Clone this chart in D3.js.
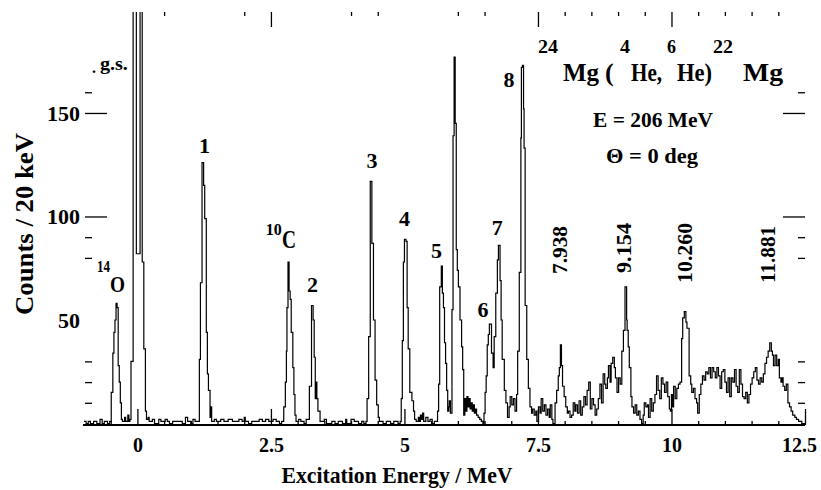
<!DOCTYPE html>
<html><head><meta charset="utf-8">
<script src="https://cdn.jsdelivr.net/npm/d3@7"></script>
<style>
body{margin:0;background:#fff}
svg{display:block}
text{font-family:"Liberation Serif","Times New Roman",serif;font-weight:bold;fill:#000}
</style>
</head><body>
<svg id="chart" width="821" height="490"></svg>
<script>
// ---- spectrum: [excitation energy (MeV), counts / 20 keV], step histogram ----
const segLow   = [[-1.00,1],[-0.96,0],[-0.92,1],[-0.88,0],[-0.82,1],[-0.76,0],[-0.70,2],[-0.66,0],[-0.62,1],[-0.56,0],[-0.52,1]];
const segO14   = [[-0.49,15],[-0.46,34],[-0.44,44],[-0.42,50],[-0.40,58],[-0.38,56],[-0.36,28],[-0.34,20],[-0.32,10],[-0.30,2],[-0.28,1],[-0.24,3],[-0.22,1],[-0.18,4],[-0.16,1],[-0.14,2]];
const segGs    = [[-0.12,30],[-0.08,260],[-0.02,82],[0.05,260],[0.09,78],[0.12,36],[0.15,6],[0.17,2]];
const segBase1 = [[0.20,3],[0.22,1],[0.28,2],[0.32,0],[0.40,2],[0.44,1],[0.52,2],[0.56,1],[0.60,0],[0.66,1],[0.76,1],[0.84,0],[0.90,3],[0.94,1],[1.00,0],[1.04,2],[1.08,1]];
const segP1    = [[1.16,31],[1.18,68],[1.21,126],[1.24,115],[1.26,99],[1.29,44],[1.31,24],[1.33,16],[1.36,3],[1.37,8],[1.39,1]];
const segBase2 = [[1.44,2],[1.48,1],[1.56,2],[1.62,1],[1.70,2],[1.78,1],[1.90,2],[1.96,1],[2.00,3],[2.02,1],[2.08,0],[2.14,1],[2.28,2],[2.34,1],[2.40,2],[2.46,1],[2.54,2],[2.60,1],[2.66,0],[2.70,1]];
const segC10   = [[2.74,8],[2.77,20],[2.79,35],[2.80,56],[2.82,78],[2.84,64],[2.86,60],[2.88,44],[2.91,27],[2.93,14],[2.95,4],[2.97,1],[3.02,2],[3.06,1],[3.12,0],[3.16,2]];
const segP2    = [[3.19,2],[3.22,18],[3.26,57],[3.29,50],[3.31,32],[3.33,12],[3.35,20],[3.36,12],[3.38,6],[3.42,1]];
const segBase3 = [[3.50,2],[3.54,0],[3.64,1],[3.70,0],[3.76,1],[3.84,0],[3.90,2],[3.92,0],[4.00,2],[4.06,1],[4.14,0],[4.20,1],[4.24,0]];
const segP3    = [[4.28,1],[4.30,12],[4.33,42],[4.36,117],[4.39,87],[4.42,50],[4.45,21],[4.48,9],[4.51,3],[4.53,1],[4.60,0],[4.66,1],[4.74,0],[4.80,1],[4.88,0]];
const segP4    = [[4.92,1],[4.94,12],[4.96,40],[4.98,78],[5.00,89],[5.03,88],[5.05,56],[5.07,36],[5.10,15],[5.14,11],[5.17,6],[5.19,2]];
const segBase4 = [[5.22,1],[5.26,3],[5.28,1],[5.30,4],[5.32,2],[5.34,5],[5.36,1],[5.40,3],[5.44,1],[5.48,2],[5.52,0],[5.56,1]];
const segP5    = [[5.62,6],[5.64,19],[5.66,66],[5.69,76],[5.71,63],[5.73,56],[5.75,39],[5.77,29],[5.79,16],[5.81,6],[5.83,8],[5.84,11],[5.86,5]];
const segP595  = [[5.89,55],[5.91,139],[5.93,177],[5.95,145],[5.97,84],[5.99,74],[6.01,66],[6.04,50],[6.07,37],[6.09,26],[6.11,4]];
const segNoise1= [[6.13,12],[6.15,6],[6.17,13],[6.19,8],[6.21,12],[6.23,7],[6.25,10],[6.27,6],[6.29,9],[6.31,5],[6.33,7],[6.35,4],[6.38,3],[6.41,2],[6.44,1],[6.47,0]];
const segP67   = [[6.49,5],[6.51,15],[6.53,23],[6.55,38],[6.57,43],[6.59,48],[6.63,34],[6.66,27],[6.68,42],[6.71,63],[6.74,79],[6.76,86],[6.79,69],[6.81,50],[6.83,31],[6.87,16],[6.90,10],[6.93,3],[6.96,8],[6.98,13],[7.01,9],[7.04,12],[7.07,6]];
const segP8    = [[7.10,14],[7.12,35],[7.15,73],[7.18,138],[7.19,172],[7.21,173],[7.23,152],[7.24,133],[7.26,57],[7.29,31],[7.32,17],[7.35,8],[7.38,5],[7.40,7],[7.43,4],[7.46,6],[7.48,1]];
const segHigh1 = [[7.51,8],[7.54,5],[7.56,12],[7.59,6],[7.62,9],[7.65,4],[7.68,7],[7.71,3],[7.73,9],[7.76,2],[7.78,0],[7.82,10],[7.85,16],[7.88,23],[7.90,27],[7.92,38],[7.94,28],[7.96,18],[7.99,13],[8.02,8],[8.05,5],[8.07,6],[8.10,3],[8.13,4],[8.16,10],[8.19,6],[8.21,9],[8.24,5],[8.27,11],[8.30,4],[8.33,8],[8.36,13],[8.39,9],[8.42,16],[8.45,20],[8.48,7]];
const segHigh2 = [[8.51,12],[8.54,9],[8.57,4],[8.60,7],[8.63,12],[8.66,19],[8.69,10],[8.72,24],[8.75,19],[8.77,17],[8.80,22],[8.82,28],[8.85,20],[8.87,29],[8.90,32],[8.93,27],[8.95,22],[8.98,15],[9.01,22],[9.04,19],[9.07,35],[9.10,45],[9.13,66],[9.16,50],[9.17,45],[9.19,37],[9.21,27],[9.24,13],[9.26,8],[9.29,5],[9.32,9],[9.35,4],[9.38,6],[9.41,2],[9.44,0],[9.47,4],[9.49,10]];
const segHigh3 = [[9.52,8],[9.55,9],[9.57,3],[9.60,12],[9.63,6],[9.66,10],[9.69,14],[9.72,23],[9.75,16],[9.78,12],[9.81,22],[9.84,19],[9.87,15],[9.90,20],[9.93,13],[9.96,7],[9.98,6],[10.00,14],[10.02,8],[10.04,18],[10.07,12],[10.10,17],[10.13,19],[10.16,20],[10.19,41],[10.21,51],[10.24,54],[10.27,49],[10.29,46],[10.33,23],[10.36,19],[10.38,15],[10.41,17],[10.44,12],[10.47,10],[10.49,5]];
const segHigh4 = [[10.52,14],[10.55,19],[10.58,23],[10.61,21],[10.64,25],[10.67,24],[10.70,27],[10.73,22],[10.76,27],[10.79,25],[10.82,22],[10.85,27],[10.88,23],[10.91,17],[10.94,25],[10.97,26],[11.00,20],[11.03,15],[11.06,22],[11.09,13],[11.12,22],[11.15,20],[11.18,26],[11.21,18],[11.24,15],[11.27,26],[11.30,19],[11.33,13],[11.36,12],[11.39,15],[11.42,10],[11.45,14],[11.48,19]];
const segHigh5 = [[11.51,22],[11.54,25],[11.57,27],[11.60,21],[11.63,19],[11.66,22],[11.69,20],[11.72,24],[11.75,29],[11.78,32],[11.81,35],[11.84,39],[11.87,35],[11.89,33],[11.91,28],[11.94,33],[11.97,28],[12.00,31],[12.02,22],[12.05,20],[12.07,22],[12.09,18],[12.12,16],[12.15,19],[12.18,10],[12.21,8],[12.24,6],[12.27,4],[12.31,3],[12.34,2],[12.38,1],[12.44,0],[12.50,0]];

// ---- axes ----
const xMajorTicks = [0, 2.5, 5, 7.5, 10, 12.5];
const xMinorTicks = [-0.5,0.5,1,1.5,2,3,3.5,4,4.5,5.5,6,6.5,7,8,8.5,9,9.5,10.5,11,11.5,12];
const topMajorTicks = [2.5, 7.5, 10];
const topMinorTicks = [0.5, 2, 4, 4.5, 6, 6.5, 8, 8.5, 9, 9.5, 10.5, 11, 11.5, 12];
const yMajorTicks = [50, 100, 150];
const yMajorTickMarks = [100, 150];
const yMinorTicks = [10, 20, 30, 80, 90, 160];

// ---- annotations ----
const peakLabelText  = ["1","2","3","4","5","6","7","8"];
const peakLabelE     = [1.255, 3.277, 4.391, 5.0, 5.6, 6.47, 6.74, 6.957];
const peakLabelCount = [130.7, 63.5, 123.4, 95.4, 80, 51.4, 91.1, 162.6];
const levelText  = ["7.938","9.154","10.260","11.881"];
const levelE     = [8.05, 9.25, 10.375, 11.94];
const levelCount = [72.2, 72.7, 67.9, 67.9];
const xTitle = "Excitation Energy / MeV";
const yTitle = "Counts / 20 keV";

const spectrum = [].concat(segLow, segO14, segGs, segBase1, segP1, segBase2, segC10, segP2, segBase3,
  segP3, segP4, segBase4, segP5, segP595, segNoise1, segP67, segP8, segHigh1, segHigh2, segHigh3, segHigh4, segHigh5);

const svg = d3.select("#chart");
const x = d3.scaleLinear().domain([-1, 12.5]).range([84, 805]);
const y = d3.scaleLinear().domain([0, 198]).range([423.5, 13.6]);

svg.append("defs").append("clipPath").attr("id","plot")
  .append("rect").attr("x", 84).attr("y", 12).attr("width", 721).attr("height", 414);

const line = d3.line().x(d => x(d[0])).y(d => y(d[1])).curve(d3.curveStepAfter);
svg.append("path").datum(spectrum).attr("clip-path","url(#plot)")
  .attr("d", line).attr("fill","none").attr("stroke","#000").attr("stroke-width",1.2);

function styleAxis(g, w){
  g.selectAll(".tick line").attr("stroke","#000").attr("stroke-width", w || 1.3);
  g.selectAll("text").style("font-family",'"Liberation Serif","Times New Roman",serif').style("font-weight","bold");
}
// bottom
const gB = svg.append("g").attr("transform","translate(0,425)")
  .call(d3.axisBottom(x).tickValues(xMajorTicks).tickSizeInner(-16).tickSizeOuter(0).tickPadding(13).tickFormat(d => String(d)));
gB.select(".domain").attr("stroke","#000").attr("stroke-width",2).attr("d","M83,0H805");
gB.selectAll("text").attr("font-size",20).style("font-size","20px");
gB.selectAll(".tick").filter(d => d === 12.5).select("text").attr("dx", -6);
styleAxis(gB);
const gBm = svg.append("g").attr("transform","translate(0,425)")
  .call(d3.axisBottom(x).tickValues(xMinorTicks).tickSize(-4).tickFormat(""));
gBm.select(".domain").remove(); styleAxis(gBm);
// top
const gT = svg.append("g").attr("transform","translate(0,12)")
  .call(d3.axisTop(x).tickValues(topMajorTicks).tickSize(-15).tickFormat(""));
gT.select(".domain").remove(); styleAxis(gT);
const gTm = svg.append("g").attr("transform","translate(0,12)")
  .call(d3.axisTop(x).tickValues(topMinorTicks).tickSize(-4).tickFormat(""));
gTm.select(".domain").remove(); styleAxis(gTm);
// left
const gL = svg.append("g").attr("transform","translate(85,0)")
  .call(d3.axisLeft(y).tickValues(yMajorTicks).tickSize(-22).tickPadding(5).tickFormat(d => String(d)));
gL.select(".domain").remove();
gL.selectAll(".tick line").filter(d => !yMajorTickMarks.includes(d)).remove();
gL.selectAll("text").style("font-size","22px");
styleAxis(gL);
const gLm = svg.append("g").attr("transform","translate(85,0)")
  .call(d3.axisLeft(y).tickValues(yMinorTicks).tickSize(-7).tickFormat(""));
gLm.select(".domain").remove(); styleAxis(gLm);
// right
const gR = svg.append("g").attr("transform","translate(805,0)")
  .call(d3.axisRight(y).tickValues(yMajorTickMarks).tickSize(-22).tickFormat(""));
gR.select(".domain").remove(); styleAxis(gR);
const gRm = svg.append("g").attr("transform","translate(805,0)")
  .call(d3.axisRight(y).tickValues(yMinorTicks).tickSize(-7).tickFormat(""));
gRm.select(".domain").remove(); styleAxis(gRm);

// titles
function put(s, px, py, size, len, anchor, rot){
  const t = svg.append("text").text(s).attr("font-size", size)
    .attr("text-anchor", anchor || "start");
  if (rot) t.attr("transform", `translate(${px},${py}) rotate(${rot})`);
  else t.attr("x", px).attr("y", py);
  if (len) t.attr("textLength", len).attr("lengthAdjust","spacingAndGlyphs");
  return t;
}
put(xTitle, 397, 483, 24, 231, "middle");
put(yTitle, 33, 224, 26, 182, "middle", -90);

// reaction title
put("24", 538, 53, 19, 20);
put("Mg", 563, 81, 26, 36);
put("(", 605, 81, 26);
put("4", 620, 53, 19, 10);
put("He,", 631, 81, 26, 31);
put("6", 667, 53, 19, 9);
put("He)", 677, 81, 26, 35);
put("22", 713, 53, 19, 20);
put("Mg", 743, 81, 26, 40);
put("E = 206 MeV", 593, 127, 21, 120);
put("\u0398 = 0 deg", 606, 163, 22, 92);

// peak labels
peakLabelText.forEach((s, i) => put(s, x(peakLabelE[i]), y(peakLabelCount[i]), 22, null, "middle"));
// contaminants & ground state
put("14", x(-0.758), y(73.2), 17, 13);
put("O", x(-0.375), y(63.5), 24, 15, "middle");
put("10", x(2.405), y(91.1), 17, 16);
put("C", x(2.837), y(84.8), 25, 14, "middle");
put("g.s.", x(-0.44), y(170.8), 18, 28, "middle");
put(".", x(-0.85), y(169.5), 16);
// level energies (rotated)
levelText.forEach((s, i) => put(s, x(levelE[i]), y(levelCount[i]), 20, [48,50,60,57][i], "start", -90));
</script>
</body></html>
